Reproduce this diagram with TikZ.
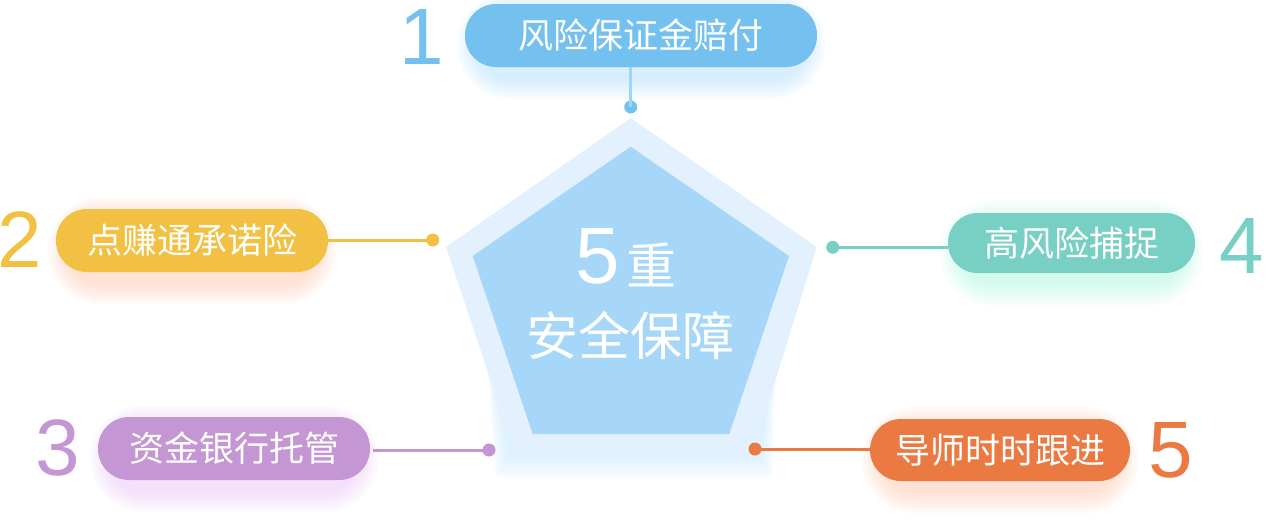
\documentclass[tikz,border=0pt]{standalone}
\usepackage{fontspec}
\setmainfont{Liberation Sans}
\newfontfamily\cjk{Noto Sans CJK SC}
\definecolor{cA}{HTML}{74C0EE}
\definecolor{cB}{HTML}{F2C043}
\definecolor{cC}{HTML}{C496D4}
\definecolor{cD}{HTML}{78CFC3}
\definecolor{cE}{HTML}{EA7A42}
\definecolor{gA}{HTML}{9DD6FA}
\definecolor{gB}{HTML}{FCB99A}
\definecolor{gC}{HTML}{E2B6F5}
\definecolor{gD}{HTML}{9EF5D6}
\definecolor{gE}{HTML}{FCBB9A}
\definecolor{pentOut}{HTML}{E2F1FD}
\definecolor{pentIn}{HTML}{A6D7F9}
\definecolor{pentGlow}{HTML}{B5E0FC}
\newcommand{\glowpill}[5]{%
  \foreach \i in {1,...,9}{%
    \fill[#5, opacity=0.06, rounded corners={(#4)/2+\i*2.5pt}]
      ({#1-(#3)/2+14-\i*2.5},{#2-(#4)/2+10-\i*2.5}) rectangle
      ({#1+(#3)/2-14+\i*2.5},{#2+(#4)/2+10+\i*2.5});
  }}
\tikzset{
  pill/.style={draw=none, rounded corners=31pt, minimum height=63pt, inner sep=0pt,
    text=white, font=\cjk\fontsize{35}{38}\selectfont},
  bignum/.style={inner sep=0pt, font=\fontsize{80}{90}\selectfont},
  dotnode/.style={circle, inner sep=0pt, minimum size=13pt},
  conn/.style={line width=3pt},
}
\begin{document}
\begin{tikzpicture}[x=1pt,y=-1pt]
\useasboundingbox (0,0) rectangle (1266,531);
% glows
\glowpill{641}{35.5}{352}{63}{gA}
\glowpill{192}{240.5}{272}{63}{gB}
\glowpill{234}{448.5}{272}{63}{gC}
\glowpill{1071.5}{243}{247}{60}{gD}
\glowpill{1000}{450}{260}{62}{gE}
% pentagon glow (mostly under lower part)
\foreach \i in {1,...,10}{%
  \fill[pentGlow, opacity=0.06]
    (485,330) -- (777,330) -- ({757+\i*1.6},{453+\i*2.6})
    -- ({511-\i*1.6},{453+\i*2.6}) -- cycle;
}
% pentagon
\fill[pentOut] (630.7,118) -- (816.7,247) -- (753,453) -- (515,453) -- (446,247) -- cycle;
\fill[pentIn] (630.7,146.7) -- (789,256) -- (729.3,434) -- (532.7,434) -- (472.7,256) -- cycle;
\node[inner sep=0pt, text=white, font=\fontsize{80}{90}\selectfont] (five) at (598,256) {5};
\node[inner sep=0pt, text=white, font=\cjk\fontsize{50}{54}\selectfont] (zhong) at (651,265) {重};
\node[inner sep=0pt, text=white, font=\cjk\fontsize{52}{56}\selectfont] (center) at (630,335) {安全保障};
% pills
\node[pill, fill=cA, minimum width=352pt] (p1) at (641,35.5) {风险保证金赔付};
\node[pill, fill=cB, minimum width=272pt] (p2) at (192,240.5) {点赚通承诺险};
\node[pill, fill=cC, minimum width=272pt] (p3) at (234,448.5) {资金银行托管};
\node[pill, fill=cD, minimum width=247pt, minimum height=60pt, rounded corners=29.5pt] (p4) at (1071.5,243) {高风险捕捉};
\node[pill, fill=cE, minimum width=260pt, minimum height=62pt] (p5) at (1000,450) {导师时时跟进};
% numbers
\node[bignum, text=cA] (n1) at (422,37) {1};
\node[bignum, text=cB] (n2) at (20,240) {2};
\node[bignum, text=cC] (n3) at (57.5,448) {3};
\node[bignum, text=cD] (n4) at (1242,246) {4};
\node[bignum, text=cE] (n5) at (1171,450) {5};
% dots
\node[dotnode, fill=cA] (d1) at (630.7,107) {};
\node[dotnode, fill=cB] (d2) at (432.7,240) {};
\node[dotnode, fill=cC] (d3) at (489,450) {};
\node[dotnode, fill=cD] (d4) at (832.7,247.3) {};
\node[dotnode, fill=cE] (d5) at (755,449) {};
% connectors
\draw[conn, draw=gA] (d1.center |- p1.south) -- (d1.center);
\draw[conn, draw=cB] (d2.center -| p2.east) -- (d2.center);
\draw[conn, draw=cC] (d3.center -| p3.east) ++(3,0) -- (d3.center);
\draw[conn, draw=cD] (d4.center -| p4.west) -- (d4.center);
\draw[conn, draw=cE] (d5.center -| p5.west) -- (d5.center);
\end{tikzpicture}
\end{document}
